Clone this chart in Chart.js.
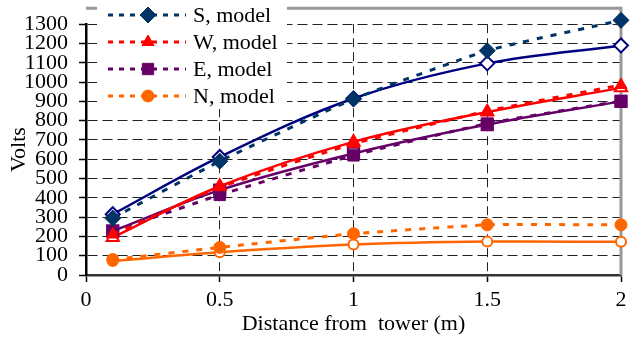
<!DOCTYPE html>
<html>
<head>
<meta charset="utf-8">
<script src="https://cdn.jsdelivr.net/npm/chart.js@4/dist/chart.umd.min.js"></script>
<style>
  html, body { margin: 0; padding: 0; background: #fff; }
  #wrap { width: 637px; height: 340px; }
</style>
</head>
<body>
<div id="wrap"><canvas id="chart"></canvas></div>
<script>
// distance from tower (m)
const distances = [0.1, 0.5, 1, 1.5, 2];

// model values (dotted lines, filled markers)
const sModel = [295, 590, 912, 1163, 1320];
const wModel = [210, 455, 680, 850, 985];
const eModel = [225, 415, 620, 785, 902];
const nModel = [80, 143, 214, 260, 260];

// measured values (solid lines, open markers)
const sMeas = [315, 612, 915, 1097, 1190];
const wMeas = [195, 460, 690, 845, 970];
const eMeas = [228, 440, 630, 780, 900];
const nMeas = [72, 118, 158, 173, 172];

const legendLabels = ["S, model", "W, model", "E, model", "N, model"];
const xTitle = "Distance from  tower (m)";
const yTitle = "Volts";

const serif = "'Liberation Serif', 'Times New Roman', serif";
Chart.defaults.font.family = serif;
Chart.defaults.font.size = 22;
Chart.defaults.color = "#000";

function pts(ys) {
    return distances.map((x, i) => ({ x: x, y: ys[i] }));
}

function modelSet(label, ys, color, style, radius) {
    return {
        label: label,
        data: pts(ys),
        borderColor: color,
        backgroundColor: color,
        borderWidth: 3,
        borderDash: [6, 8],
        tension: 0.15,
        pointStyle: style,
        pointRadius: radius,
        pointBorderWidth: 1,
        pointBackgroundColor: color,
        pointBorderColor: color,
        clip: false,
        order: 1,
        model: true
    };
}

function measSet(label, ys, lineColor, color, style, radius) {
    return {
        label: label,
        data: pts(ys),
        borderColor: lineColor,
        backgroundColor: "#fff",
        borderWidth: 2.5,
        tension: 0.35,
        pointStyle: style,
        pointRadius: radius,
        pointBorderWidth: 2,
        pointBackgroundColor: "#fff",
        pointBorderColor: color,
        clip: false,
        order: 2,
        model: false
    };
}

// grey frame on top and right of the plot area
const framePlugin = {
    id: "frame",
    beforeDatasetsDraw(chart) {
        const a = chart.chartArea;
        const ctx = chart.ctx;
        ctx.save();
        ctx.strokeStyle = "#999";
        ctx.lineWidth = 3;
        ctx.beginPath();
        ctx.moveTo(a.left, a.top - 16);
        ctx.lineTo(a.right, a.top - 16);
        ctx.lineTo(a.right, a.bottom);
        ctx.stroke();
        ctx.restore();
    }
};

// legend inside the plot, only the model series
const legendPlugin = {
    id: "insideLegend",
    afterDraw(chart) {
        const ctx = chart.ctx;
        ctx.save();
        ctx.fillStyle = "#fff";
        ctx.fillRect(97, 0, 190, 109);
        const models = chart.data.datasets.filter(d => d.model);
        models.forEach((ds, i) => {
            const y = 15 + i * 27;
            ctx.strokeStyle = ds.borderColor;
            ctx.lineWidth = 3;
            ctx.setLineDash([5, 6]);
            ctx.beginPath();
            ctx.moveTo(108, y);
            ctx.lineTo(186, y);
            ctx.stroke();
            ctx.setLineDash([]);
            ctx.fillStyle = ds.pointBackgroundColor;
            ctx.strokeStyle = ds.pointBorderColor;
            ctx.lineWidth = 1;
            Chart.helpers.drawPoint(ctx, {
                pointStyle: ds.pointStyle,
                radius: ds.pointRadius,
                rotation: 0,
                borderWidth: 1
            }, 148, y);
            ctx.fillStyle = "#000";
            ctx.font = "22px " + serif;
            ctx.textBaseline = "middle";
            ctx.textAlign = "left";
            ctx.fillText(legendLabels[i], 193, y + 1);
        });
        ctx.restore();
    }
};

new Chart(document.getElementById("chart"), {
    type: "line",
    data: {
        datasets: [
            measSet("S", sMeas, "#000080", "#000080", "rectRot", 7),
            measSet("W", wMeas, "#ff0000", "#ff0000", "triangle", 7),
            measSet("E", eMeas, "#660066", "#660066", "rect", 8),
            measSet("N", nMeas, "#ff6600", "#ff6600", "circle", 5),
            modelSet(legendLabels[0], sModel, "#003366", "rectRot", 8),
            modelSet(legendLabels[1], wModel, "#ff0000", "triangle", 7),
            modelSet(legendLabels[2], eModel, "#660066", "rect", 8),
            modelSet(legendLabels[3], nModel, "#ff6600", "circle", 6)
        ]
    },
    options: {
        responsive: true,
        maintainAspectRatio: false,
        animation: false,
        layout: {
            padding: { top: 20, right: 16, left: 0, bottom: 0 }
        },
        plugins: {
            legend: { display: false },
            tooltip: { enabled: false }
        },
        scales: {
            x: {
                type: "linear",
                min: 0,
                max: 2,
                ticks: {
                    stepSize: 0.5,
                    padding: 5,
                    maxRotation: 0,
                    autoSkip: false,
                    callback: v => String(v)
                },
                grid: {
                    color: "#222",
                    lineWidth: 1,
                    tickColor: "#000",
                    tickLength: 7,
                    tickWidth: 1.5
                },
                border: {
                    display: true,
                    color: "#333",
                    width: 2.5,
                    dash: [9, 5]
                },
                title: {
                    display: true,
                    text: xTitle,
                    padding: { top: 0, bottom: 3 }
                },
                afterFit(scale) {
                    scale.height = 65;
                }
            },
            y: {
                min: 0,
                max: 1300,
                ticks: {
                    stepSize: 100,
                    padding: 11,
                    autoSkip: false,
                    callback: v => String(v)
                },
                grid: {
                    color: "#222",
                    lineWidth: 1,
                    tickColor: "#000",
                    tickLength: 7,
                    tickWidth: 1.5
                },
                border: {
                    display: true,
                    color: "#000",
                    width: 2.5,
                    dash: [10, 5]
                },
                title: {
                    display: true,
                    text: yTitle,
                    padding: { top: 6, bottom: 0 }
                },
                afterFit(scale) {
                    scale.width = 86;
                }
            }
        }
    },
    plugins: [framePlugin, legendPlugin]
});
</script>
</body>
</html>
